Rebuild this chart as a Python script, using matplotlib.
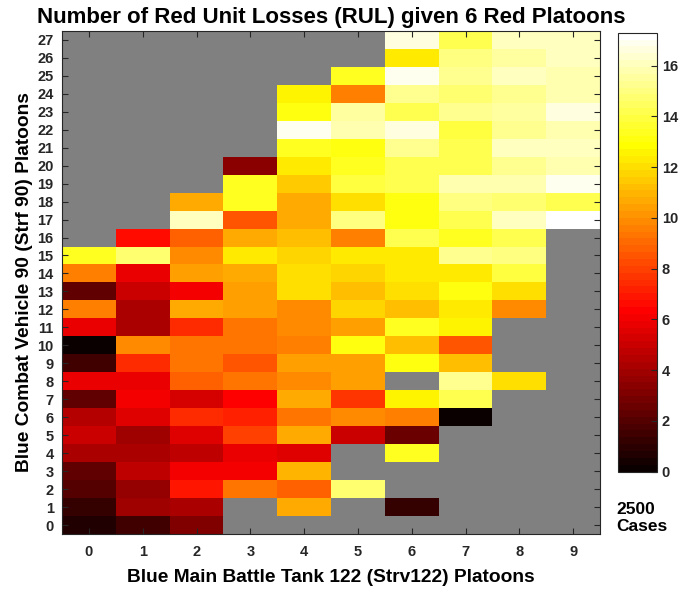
import numpy as np
import matplotlib
matplotlib.use('Agg')
import matplotlib.pyplot as plt
from matplotlib.colors import ListedColormap

nan = np.nan

# x: Strv122 platoons, y: Strf 90 platoons
x_platoons = list(range(10))
y_platoons = list(range(28))

# mean red unit losses per column, rows 0..27 (nan = not simulated)
col0 = [0.7, 1.1, 1.9, 2.3, 4.2, 4.9, 4.5, 2.3, 5.7, 1.4, 0.2, 5.9, 9.5, 2.3, 9.5, 13.5,
        nan, nan, nan, nan, nan, nan, nan, nan, nan, nan, nan, nan]
col1 = [1.6, 3.8, 3.6, 4.7, 4.1, 3.9, 5.5, 6.05, 5.7, 7.3, 10.0, 4.1, 4.1, 4.9, 5.9, 14.6,
        6.5, nan, nan, nan, nan, nan, nan, nan, nan, nan, nan, nan]
col2 = [3.1, 4.1, 6.9, 6.05, 4.7, 5.5, 7.3, 5.2, 8.7, 9.3, 9.2, 7.5, 10.6, 6.05, 10.4, 10.0,
        8.7, 16.0, 10.8, nan, nan, nan, nan, nan, nan, nan, nan, nan]
col3 = [nan, nan, 9.2, 6.2, 5.9, 8.1, 7.1, 6.3, 9.2, 8.5, 9.2, 9.3, 10.3, 10.4, 10.7, 12.4,
        10.8, 8.5, 13.5, 13.3, 3.3, nan, nan, nan, nan, nan, nan, nan]
col4 = [nan, 10.7, 8.8, 11.0, 5.6, 10.8, 9.3, 10.8, 10.0, 10.4, 9.6, 9.8, 9.8, 12.1, 12.0, 11.7,
        11.2, 10.8, 10.8, 11.6, 12.4, 13.5, 16.8, 13.0, 12.6, nan, nan, nan]
col5 = [nan, nan, 14.6, nan, nan, 4.9, 10.0, 7.8, 10.4, 10.4, 13.2, 10.5, 11.7, 11.2, 11.7, 12.4,
        9.5, 14.9, 12.1, 13.8, 13.5, 13.2, 15.8, 15.6, 9.5, 13.5, nan, nan]
col6 = [nan, 1.2, nan, nan, 13.5, 2.65, 9.5, 12.6, nan, 13.0, 11.3, 13.5, 11.3, 12.0, 12.2, 12.2,
        14.3, 13.2, 13.2, 14.1, 14.1, 15.2, 16.5, 14.1, 15.2, 16.8, 12.4, 16.5]
col7 = [nan, nan, nan, nan, nan, nan, 0.2, 14.3, 15.2, 11.2, 8.4, 12.6, 12.4, 13.0, 12.4, 15.2,
        13.5, 14.1, 14.9, 15.7, 14.1, 14.1, 13.8, 15.2, 14.6, 15.2, 14.9, 14.3]
col8 = [nan, nan, nan, nan, nan, nan, nan, nan, 12.1, nan, nan, nan, 9.8, 12.1, 13.8, 14.9,
        14.3, 16.0, 14.6, 15.7, 15.2, 16.0, 15.2, 15.6, 15.2, 16.2, 15.6, 16.0]
col9 = [nan, nan, nan, nan, nan, nan, nan, nan, nan, nan, nan, nan, nan, nan, nan, nan,
        nan, 17.1, 14.1, 16.9, 15.7, 16.0, 15.8, 16.5, 15.7, 15.8, 16.2, 16.0]

Z = np.ma.masked_invalid(np.array([col0, col1, col2, col3, col4, col5,
                                   col6, col7, col8, col9]).T)

# MATLAB-style hot(64)
n = 64
i = np.arange(1, n + 1)
r = np.clip(i / 24, 0, 1)
g = np.clip((i - 24) / 24, 0, 1)
b = np.clip((i - 48) / 16, 0, 1)
hot64 = ListedColormap(np.column_stack([r, g, b]))

plt.rcParams['font.family'] = ['Liberation Sans', 'DejaVu Sans']
plt.rcParams['font.weight'] = 'bold'

fig = plt.figure(figsize=(6.82, 5.94), dpi=100)
ax = fig.add_axes([0.0909, 0.101, 0.789, 0.847])
ax.set_facecolor((0.5, 0.5, 0.5))

xe = np.arange(len(x_platoons) + 1) - 0.5
ye = np.arange(len(y_platoons) + 1) - 0.5
mesh = ax.pcolormesh(xe, ye, Z, cmap=hot64, vmin=0, vmax=17.3)

ax.set_xlim(-0.5, 9.5)
ax.set_ylim(-0.5, 27.5)
ax.set_xticks(x_platoons)
ax.set_yticks(y_platoons)
ax.tick_params(direction='in', top=True, right=True, length=4,
               labelsize=10.5, colors='#262626', labelcolor='#262626')
ax.tick_params(axis='x', pad=8)
ax.tick_params(axis='y', pad=6)
for lab in ax.get_xticklabels() + ax.get_yticklabels():
    lab.set_fontweight('bold')
for s in ax.spines.values():
    s.set_color('#262626')

ax.set_xlabel('Blue Main Battle Tank 122 (Strv122) Platoons', fontsize=13.8, fontweight='bold', labelpad=7)
ax.set_ylabel('Blue Combat Vehicle 90 (Strf 90) Platoons', fontsize=13.8, fontweight='bold', labelpad=3)
fig.text(331 / 682, 1 - 22.7 / 594, 'Number of Red Unit Losses (RUL) given 6 Red Platoons',
         ha='center', va='baseline', fontsize=16, fontweight='bold')

cax = fig.add_axes([0.906, 0.206, 0.057, 0.739])
cb = fig.colorbar(mesh, cax=cax, ticks=np.arange(0, 17, 2))
cb.ax.tick_params(direction='in', length=4, labelsize=10.5, colors='#262626')
for lab in cb.ax.get_yticklabels():
    lab.set_fontweight('bold')
cb.outline.set_edgecolor('#262626')
fig.text(616 / 682, 1 - 518 / 594, '2500\nCases', ha='left', va='center',
         fontsize=12.5, fontweight='bold', linespacing=1.2)

fig.savefig('out.png', dpi=100)
